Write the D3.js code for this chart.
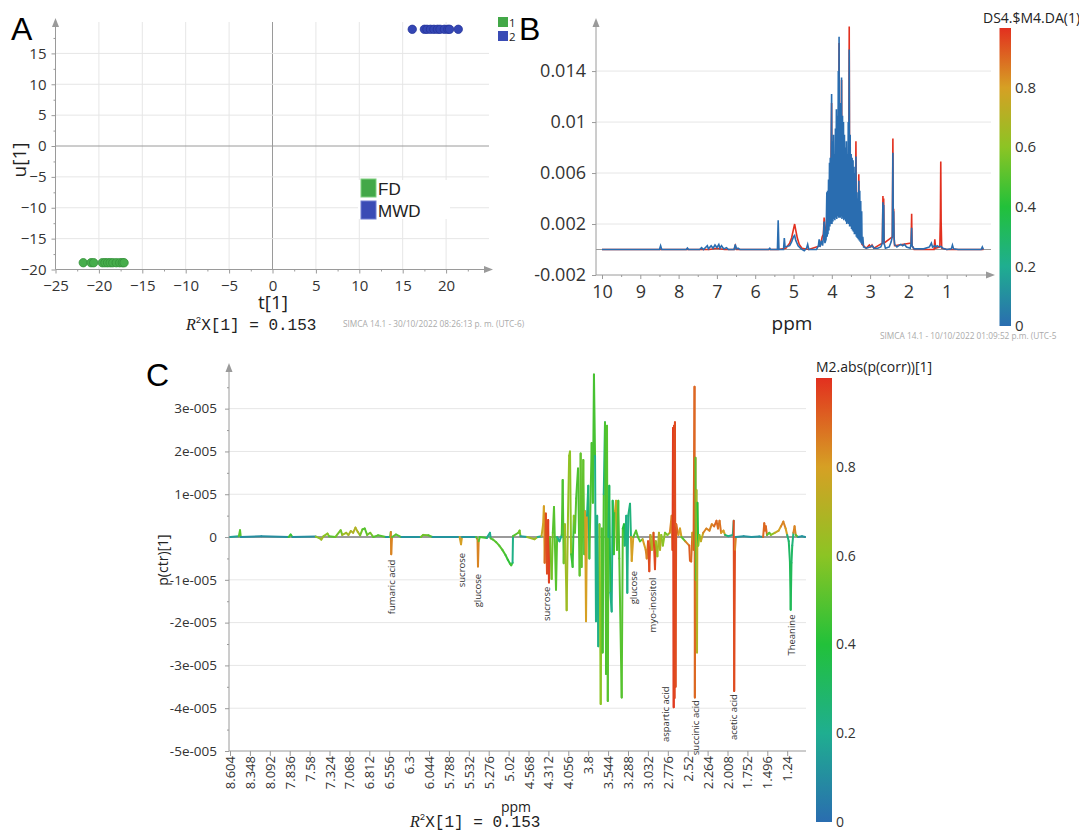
<!DOCTYPE html>
<html>
<head>
<meta charset="utf-8">
<script src="https://d3js.org/d3.v7.min.js"></script>
<style>
  body { margin: 0; background: #fff; }
  svg { display: block; font-family: "Open Sans", "Noto Sans", sans-serif; }
</style>
</head>
<body>
<svg id="fig" width="1079" height="832"></svg>
<script>
// ---------- Panel A: scores t[1] / u[1] ----------
const fdT = [-21.8, -20.9, -20.6, -19.6, -19.3, -19.0, -18.7, -18.4, -18.0, -17.6, -17.3, -17.1];
const fdU = [-18.9, -18.9, -18.9, -18.9, -18.9, -18.9, -18.9, -18.9, -18.9, -18.9, -18.9, -18.9];
const mwdT = [16.1, 17.5, 17.8, 18.2, 18.6, 19.0, 19.3, 19.8, 20.2, 20.4, 21.4];
const mwdU = [18.9, 18.9, 18.9, 18.9, 18.9, 18.9, 18.9, 18.9, 18.9, 18.9, 18.9];
const tTicks = [-25, -20, -15, -10, -5, 0, 5, 10, 15, 20];
const uTicks = [-20, -15, -10, -5, 0, 5, 10, 15];
const classNames = ['FD', 'MWD'];
const classIds = ['1', '2'];

// ---------- Panel B: spectra coloured by DS4.$M4.DA(1) (intensity x 1e-3) ----------
const ppmTicksB = [10, 9, 8, 7, 6, 5, 4, 3, 2, 1];
const intensityTicksB = [-2, 2, 6, 10, 14];
const spectraDA0 = [
  [10.0, 0], [8.50, 0], [8.47, 0.3], [8.44, 0], [7.80, 0], [7.77, 0.12], [7.74, 0],
  [7.45, 0], [7.40, 0.15], [7.35, 0], [7.25, 0.3], [7.22, 0.05], [7.15, 0.3], [7.10, 0.1],
  [7.05, 0.35], [7.00, 0.15], [6.95, 0.4], [6.92, 0.1], [6.88, 0.3], [6.82, 0.05], [6.75, 0.15],
  [6.70, 0], [6.55, 0], [6.52, 0.4], [6.49, 0.05], [6.45, 0.1], [6.40, 0],
  [5.65, 0], [5.62, 0.1], [5.60, 0], [5.42, 0], [5.40, 2.3], [5.38, 0], [5.26, 0], [5.24, 0.9],
  [5.22, 0.2], [5.10, 0.3], [5.05, 0.6], [5.00, 1.0], [4.97, 1.1], [4.94, 0.7], [4.88, 0.3],
  [4.80, 0.05], [4.72, -0.1], [4.66, 0.1], [4.63, 0.4], [4.60, 0], [4.40, 0], [4.35, 0.3],
  [4.33, 0.8], [4.31, 0.2], [4.27, 0.7], [4.24, 0.3], [4.22, 0.9], [4.20, 2.2], [4.18, 0.5],
  [4.15, 0.8], [4.13, 4.5], [4.12, 1.0], [4.11, 4.6], [4.10, 1.2], [4.085, 5.5], [4.075, 1.5],
  [4.06, 6.8], [4.05, 1.8], [4.04, 7.2], [4.03, 2.0], [4.005, 12.2], [3.995, 2.0], [3.98, 8.5],
  [3.97, 2.2], [3.955, 9.0], [3.945, 2.4], [3.93, 7.5], [3.92, 2.3], [3.905, 9.5], [3.895, 2.5],
  [3.88, 11.0], [3.87, 2.4], [3.855, 10.5], [3.845, 2.6], [3.83, 14.0], [3.82, 2.5], [3.81, 16.7],
  [3.80, 2.7], [3.79, 11.5], [3.78, 2.5], [3.77, 11.0], [3.76, 2.6], [3.745, 13.5], [3.735, 2.4],
  [3.72, 10.5], [3.71, 2.5], [3.695, 10.0], [3.685, 2.3], [3.67, 9.0], [3.66, 2.4], [3.645, 8.0],
  [3.635, 2.2], [3.62, 8.5], [3.61, 2.0], [3.595, 7.5], [3.585, 2.1], [3.57, 10.0], [3.56, 2.0],
  [3.545, 15.7], [3.535, 1.8], [3.52, 9.0], [3.51, 1.8], [3.495, 7.5], [3.485, 1.6], [3.47, 7.2],
  [3.46, 1.5], [3.445, 7.0], [3.435, 1.4], [3.42, 6.5], [3.41, 1.2], [3.395, 6.0], [3.385, 1.2],
  [3.37, 7.3], [3.36, 1.0], [3.345, 4.5], [3.335, 0.9], [3.32, 4.0], [3.31, 0.8], [3.295, 5.4],
  [3.285, 0.7], [3.27, 4.6], [3.26, 0.6], [3.245, 3.8], [3.235, 0.5], [3.22, 3.0], [3.21, 0.4],
  [3.19, 1.0], [3.17, 0.2], [3.10, 0.1], [3.00, 0.2], [2.95, 0.3], [2.90, 0.1], [2.80, 0.1],
  [2.72, 0.2], [2.68, 0.5], [2.665, 3.7], [2.655, 1.0], [2.645, 3.5], [2.635, 0.5], [2.60, 0.1],
  [2.50, 0.2], [2.45, 0.6], [2.42, 1.0], [2.405, 7.6], [2.395, 1.5], [2.385, 3.0], [2.375, 1.0],
  [2.36, 0.4], [2.30, 0.2], [2.25, 0.3], [2.20, 0.4], [2.15, 0.3], [2.10, 0.4], [2.05, 0.2],
  [1.95, 0.1], [1.93, 0.5], [1.915, 1.7], [1.905, 0.3], [1.85, 0.05], [1.60, 0.05], [1.45, 0.2],
  [1.40, 0.5], [1.37, 0.2], [1.31, 0.3], [1.28, 0.2], [1.25, 0.3], [1.20, 0.2], [1.15, 0.25],
  [1.10, 0.1], [1.00, 0], [0.88, 0.05], [0.85, 0.35], [0.82, 0.05], [0.70, 0], [0.10, 0],
  [0.07, 0.2], [0.04, 0]
];
const spectraDA1 = [
  [10.0, 0], [7.20, 0], [7.00, 0.1], [6.80, 0], [6.55, 0], [6.52, 0.3], [6.49, 0], [5.40, 0],
  [5.20, 0.1], [5.10, 0.5], [5.05, 0.9], [5.00, 1.6], [4.97, 2.0], [4.94, 1.5], [4.90, 0.9],
  [4.85, 0.4], [4.78, 0.1], [4.60, 0], [4.30, 0.3], [4.25, 1.0], [4.22, 1.2], [4.20, 2.5],
  [4.18, 0.6], [4.13, 2.5], [4.03, 3.4], [4.005, 11.5], [3.995, 3.4], [3.83, 4.0], [3.81, 16.2],
  [3.80, 4.0], [3.76, 4.0], [3.745, 13.3], [3.735, 3.8], [3.56, 3.2], [3.545, 17.5], [3.535, 3.0],
  [3.385, 2.4], [3.37, 8.5], [3.36, 2.2], [3.31, 2.0], [3.295, 5.9], [3.285, 1.8], [3.245, 1.5],
  [3.21, 0.4], [3.10, 0.1], [3.02, 0.35], [2.98, 0.2], [2.95, 0.35], [2.90, 0.1], [2.68, 0.5],
  [2.665, 4.2], [2.655, 1.0], [2.645, 4.0], [2.635, 0.5], [2.42, 1.0], [2.405, 8.7], [2.395, 1.5],
  [2.385, 3.2], [2.375, 1.0], [2.36, 0.3], [1.93, 0.5], [1.915, 2.8], [1.905, 0.3], [1.85, 0],
  [1.33, 0], [1.31, 0.8], [1.29, 0.1], [1.18, 0.2], [1.165, 2.5], [1.155, 6.9], [1.145, 2.2],
  [1.13, 0.1], [1.00, 0], [0.04, 0]
];
const colorbarTicksB = [0, 0.2, 0.4, 0.6, 0.8];

// ---------- Panel C: loadings p(ctr)[1] x 1e-5, coloured by |p(corr)| ----------
const cTickLabels = ['8.604', '8.348', '8.092', '7.836', '7.58', '7.324', '7.068', '6.812', '6.556',
  '6.3', '6.044', '5.788', '5.532', '5.276', '5.02', '4.568', '4.312', '4.056', '3.8', '3.544',
  '3.288', '3.032', '2.776', '2.52', '2.264', '2.008', '1.752', '1.496', '1.24'];
const loadingTicksC = [-5, -4, -3, -2, -1, 0, 1, 2, 3];
// [ppm, p(ctr), abs(p(corr))]
const loadingsAromatic = [
  [8.60, 0, 0.12], [8.49, 0.02, 0.15], [8.475, 0.16, 0.5], [8.465, 0, 0.12], [8.20, 0.02, 0.1],
  [7.85, 0, 0.12], [7.823, 0.06, 0.45], [7.80, 0, 0.12], [7.50, 0.01, 0.1], [7.45, -0.03, 0.6],
  [7.43, -0.06, 0.65], [7.40, 0.02, 0.5], [7.35, 0.08, 0.6], [7.33, 0.02, 0.5], [7.25, 0, 0.12],
  [7.18, 0.16, 0.55], [7.16, 0.05, 0.6], [7.11, 0.10, 0.65], [7.08, 0.05, 0.68], [7.05, 0.14, 0.68],
  [7.02, 0.10, 0.7], [6.99, 0.22, 0.7], [6.96, 0.12, 0.68], [6.93, 0.04, 0.65], [6.90, 0.18, 0.55],
  [6.87, 0.20, 0.5], [6.84, 0.05, 0.6], [6.80, 0.10, 0.55], [6.76, 0, 0.12], [6.70, 0.04, 0.5],
  [6.60, 0, 0.12], [6.545, 0, 0.12], [6.535, 0.12, 0.5], [6.53, -0.40, 0.85], [6.52, 0, 0.2],
  [6.47, 0.06, 0.5], [6.40, 0, 0.12], [6.15, 0, 0.12], [6.12, 0.05, 0.55], [6.05, 0.04, 0.5],
  [6.00, 0, 0.12], [5.65, 0, 0.12], [5.632, -0.17, 0.8], [5.62, 0, 0.2], [5.44, 0, 0.12],
  [5.42, -0.05, 0.5], [5.414, -0.69, 0.85], [5.405, -0.10, 0.5], [5.39, 0, 0.2]
];
const loadingsSugar = [
  [5.30, -0.02, 0.45], [5.26, 0.10, 0.2], [5.25, -0.03, 0.45], [5.22, -0.06, 0.5],
  [5.18, -0.12, 0.5], [5.14, -0.20, 0.5], [5.10, -0.30, 0.5], [5.06, -0.42, 0.48],
  [5.03, -0.53, 0.45], [4.99, -0.62, 0.42], [4.96, -0.66, 0.45], [4.93, -0.60, 0.22],
  [4.92, 0.02, 0.15], [4.80, 0.10, 0.5], [4.77, 0.15, 0.55], [4.75, 0.02, 0.15], [4.60, 0, 0.12],
  [4.49, -0.05, 0.65], [4.45, 0, 0.12], [4.40, 0.02, 0.2],
  [4.38, 0.3, 0.75], [4.37, 0.72, 0.8], [4.36, -0.6, 0.9], [4.345, 0.55, 0.75], [4.33, -0.85, 0.95],
  [4.315, 0.4, 0.7], [4.305, -1.06, 0.97], [4.29, 0, 0.5], [4.27, -0.98, 0.55], [4.255, 0.1, 0.4],
  [4.24, 0.7, 0.5], [4.23, 0, 0.3], [4.214, -1.23, 0.5], [4.20, 0, 0.2], [4.17, -0.1, 0.2],
  [4.14, 0.05, 0.3], [4.128, 1.33, 0.48], [4.115, -0.61, 0.55], [4.10, 0.3, 0.5],
  [4.077, -1.71, 0.65], [4.06, 0.5, 0.6], [4.045, 1.9, 0.62], [4.034, 2.0, 0.6], [4.02, -0.4, 0.5],
  [4.00, -0.7, 0.45], [3.985, 0.5, 0.6], [3.97, 0.1, 0.25], [3.955, 0.9, 0.5], [3.931, 1.6, 0.48],
  [3.91, -0.9, 0.6], [3.897, 1.95, 0.52], [3.885, -0.7, 0.5], [3.863, 1.8, 0.52], [3.85, -0.4, 0.45],
  [3.84, 0.6, 0.45], [3.828, -1.97, 0.8], [3.815, 0.5, 0.25], [3.799, 1.2, 0.25], [3.785, -0.5, 0.4],
  [3.755, 2.2, 0.48], [3.74, 0.8, 0.4], [3.726, 3.8, 0.47], [3.712, 1.9, 0.4], [3.70, -1.97, 0.22],
  [3.685, 0.5, 0.25], [3.670, -2.55, 0.22], [3.655, 0.3, 0.45], [3.639, -3.9, 0.6], [3.625, 0.2, 0.4],
  [3.614, -2.7, 0.48], [3.60, 1.0, 0.28], [3.584, 2.68, 0.24], [3.57, -3.2, 0.48], [3.558, 2.6, 0.28],
  [3.548, -3.83, 0.5], [3.54, 0, 0.3], [3.529, 1.2, 0.25], [3.515, -1.3, 0.35], [3.498, -1.74, 0.22],
  [3.485, 0.85, 0.35], [3.47, -0.4, 0.35], [3.455, 0.6, 0.45], [3.442, 0.85, 0.75], [3.43, -0.3, 0.45],
  [3.413, 0.85, 0.48], [3.40, -0.5, 0.4], [3.369, -3.75, 0.5], [3.355, 0.2, 0.35], [3.340, 0.3, 0.4],
  [3.33, -0.2, 0.25], [3.31, 0.5, 0.25], [3.297, -1.3, 0.22], [3.285, 0.5, 0.25], [3.262, 0.78, 0.25],
  [3.25, 0, 0.25], [3.240, -0.56, 0.8], [3.22, 0, 0.2], [3.185, 0.15, 0.5], [3.16, 0, 0.2],
  [3.134, -0.1, 0.5]
];
const loadingsAliphatic = [
  [3.10, -0.05, 0.6], [3.06, -0.3, 0.8], [3.047, -0.5, 0.85], [3.03, -0.1, 0.7], [3.014, -0.8, 0.95],
  [3.00, 0.05, 0.6], [2.98, -0.3, 0.7], [2.96, 0.1, 0.5], [2.941, -0.75, 0.95], [2.93, -0.1, 0.6],
  [2.91, -0.45, 0.65], [2.89, 0.1, 0.55], [2.876, -0.3, 0.7], [2.86, 0.05, 0.5], [2.84, -0.2, 0.6],
  [2.812, 0.1, 0.55], [2.78, 0.05, 0.5], [2.75, 0.1, 0.6], [2.726, 0.5, 0.85], [2.715, -0.3, 0.95],
  [2.709, 2.55, 0.97], [2.700, -3.98, 0.98], [2.696, 2.6, 0.97], [2.69, -3.76, 0.96],
  [2.684, 2.68, 0.96], [2.676, -3.5, 0.95], [2.668, 0.3, 0.9], [2.64, 0.05, 0.5], [2.619, 0.2, 0.8],
  [2.60, 0, 0.3], [2.55, -0.1, 0.5], [2.50, -0.2, 0.85], [2.491, -0.55, 0.92], [2.475, -0.57, 0.9],
  [2.46, 0.1, 0.5], [2.445, -0.3, 0.7], [2.432, 3.51, 0.92], [2.428, -3.75, 0.9], [2.42, 1.85, 0.5],
  [2.414, -1.0, 0.55], [2.408, 1.1, 0.45], [2.40, -2.7, 0.7], [2.395, 0.8, 0.4], [2.385, -0.2, 0.6],
  [2.37, 0.05, 0.3], [2.35, -0.1, 0.6], [2.32, 0.1, 0.75], [2.28, 0.2, 0.85], [2.24, 0.15, 0.8],
  [2.21, 0.3, 0.85], [2.18, 0.25, 0.85], [2.15, 0.38, 0.9], [2.13, 0.2, 0.85], [2.11, 0.38, 0.88],
  [2.09, 0.1, 0.7], [2.06, 0.15, 0.8], [2.04, 0.05, 0.3], [2.00, 0.02, 0.2], [1.94, 0.05, 0.2],
  [1.928, 0.38, 0.22], [1.922, -3.6, 0.95], [1.912, -0.3, 0.85], [1.90, 0, 0.2], [1.80, 0.02, 0.12],
  [1.70, 0, 0.12], [1.60, 0.01, 0.12], [1.55, 0, 0.12], [1.535, 0.32, 0.9], [1.525, 0.15, 0.85],
  [1.515, 0.25, 0.9], [1.50, 0.05, 0.6], [1.47, 0.1, 0.5], [1.45, 0.05, 0.55], [1.40, 0.1, 0.6],
  [1.35, 0.15, 0.75], [1.32, 0.25, 0.8], [1.29, 0.36, 0.85], [1.26, 0.2, 0.8], [1.24, 0.05, 0.5],
  [1.22, -0.1, 0.25], [1.205, -0.57, 0.3], [1.195, -1.7, 0.33], [1.185, -0.6, 0.3],
  [1.175, -0.2, 0.25], [1.16, 0.1, 0.6], [1.145, 0.25, 0.85], [1.13, 0.05, 0.5], [1.10, 0, 0.12],
  [1.05, 0.02, 0.12], [1.01, 0, 0.12]
];
// metabolite annotation: name, ppm, loading where the label starts
const metaboliteLabels = [
  ['fumaric acid', 6.52, -0.53], ['sucrose', 5.62, -0.37], ['glucose', 5.414, -0.86],
  ['sucrose', 4.33, -1.16], ['glucose', 3.21, -0.79], ['myo-inositol', 2.966, -0.95],
  ['aspartic acid', 2.80, -3.49], ['succinic acid', 2.414, -3.81], ['acetic acid', 1.924, -3.67],
  ['Theanine', 1.18, -1.81]
];
const colorbarTicksC = [0, 0.2, 0.4, 0.6, 0.8];

// SIMCA colour ramp
const colorStops = [0, 0.2, 0.4, 0.6, 0.8, 1.0];
const colorRamp = ['#2a6db0', '#1fae90', '#22c13a', '#8cc424', '#d6a024', '#e2301f'];
const corrColor = d3.scaleLinear().domain(colorStops).range(colorRamp).clamp(true);

const svg = d3.select('#fig');
const axisGray = '#9a9a9a';
const gridGray = '#e6e6e6';
const textDark = '#333';

function styleAxis(sel, size) {
  sel.attr('font-family', null).attr('font-size', null);
  sel.select('.domain').remove();
  sel.selectAll('.tick line').attr('stroke', axisGray);
  sel.selectAll('.tick text').attr('fill', textDark).style('font-size', size + 'px');
}

function arrowRight(g, x, y) {
  g.append('path').attr('d', `M${x},${y}L${x - 9},${y - 3.5}L${x - 9},${y + 3.5}Z`).attr('fill', axisGray);
}
function arrowUp(g, x, y) {
  g.append('path').attr('d', `M${x},${y}L${x - 3.5},${y + 9}L${x + 3.5},${y + 9}Z`).attr('fill', axisGray);
}

function colorbar(id, x, y0, y1, w, ticks, title, titleX, titleY, fontSize) {
  const grad = svg.append('defs').append('linearGradient').attr('id', id)
    .attr('x1', 0).attr('y1', 1).attr('x2', 0).attr('y2', 0);
  grad.selectAll('stop').data(colorStops).join('stop')
    .attr('offset', d => d).attr('stop-color', d => corrColor(d));
  const s = d3.scaleLinear().domain([0, 1]).range([y1, y0]);
  svg.append('rect').attr('x', x).attr('y', y0).attr('width', w).attr('height', y1 - y0)
    .attr('fill', `url(#${id})`);
  svg.append('g').selectAll('text').data(ticks).join('text')
    .attr('x', x + w + 4).attr('y', d => s(d)).attr('dy', '0.35em')
    .attr('fill', textDark).style('font-size', fontSize + 'px').text(d => d);
  svg.append('text').attr('x', titleX).attr('y', titleY).attr('fill', '#222')
    .style('font-size', '14px').text(title);
}

// ================= Panel A =================
function drawPanelA() {
  const g = svg.append('g');
  const xA = d3.scaleLinear().domain([-25, 25]).range([55.5, 489.5]);
  const yA = d3.scaleLinear().domain([-20, 19.6]).range([269.5, 25]);
  const yTop = 22, xRight = 489;

  g.selectAll('.vg').data(tTicks.filter(d => d > -25)).join('line')
    .attr('x1', d => xA(d)).attr('x2', d => xA(d)).attr('y1', yA(-20)).attr('y2', yTop)
    .attr('stroke', d => d === 0 ? axisGray : gridGray);
  g.selectAll('.hg').data(uTicks.filter(d => d > -20)).join('line')
    .attr('x1', xA(-25)).attr('x2', xRight).attr('y1', d => yA(d)).attr('y2', d => yA(d))
    .attr('stroke', d => d === 0 ? axisGray : gridGray);

  // legend box (white background covers grid)
  g.append('rect').attr('x', 358).attr('y', 180).attr('width', 92).attr('height', 39).attr('fill', '#fff');
  const legCols = ['#43a848', '#3a4bb5'];
  classNames.forEach((name, i) => {
    g.append('rect').attr('x', 361).attr('y', 179 + i * 22).attr('width', 15).attr('height', 18)
      .attr('fill', legCols[i]).attr('stroke', i ? '#6f7dd0' : '#7fcf7f').attr('stroke-width', 1);
    g.append('text').attr('x', 378).attr('y', 195 + i * 22).attr('fill', '#222')
      .style('font-family', '"Liberation Sans", Arial, sans-serif').style('font-size', '17px').text(name);
  });

  // axes
  g.append('line').attr('x1', xA(-25)).attr('x2', xRight).attr('y1', yA(-20)).attr('y2', yA(-20)).attr('stroke', axisGray);
  g.append('line').attr('x1', xA(-25)).attr('x2', xA(-25)).attr('y1', yA(-20)).attr('y2', yTop).attr('stroke', axisGray);
  arrowRight(g, xRight + 4, yA(-20));
  arrowUp(g, xA(-25), yTop - 4);

  g.append('g').attr('transform', `translate(0,${yA(-20)})`)
    .call(d3.axisBottom(xA).tickValues(tTicks).tickSize(4).tickPadding(7))
    .call(s => styleAxis(s, 15));
  g.append('g').attr('transform', `translate(0,${yA(-20)})`)
    .call(d3.axisBottom(xA).tickValues(d3.range(-22.5, 25, 5)).tickSize(2).tickFormat(''))
    .call(s => styleAxis(s, 15));
  g.append('g').attr('transform', `translate(${xA(-25)},0)`)
    .call(d3.axisLeft(yA).tickValues(uTicks).tickSize(4).tickPadding(5))
    .call(s => styleAxis(s, 15));
  g.append('g').attr('transform', `translate(${xA(-25)},0)`)
    .call(d3.axisLeft(yA).tickValues(d3.range(-17.5, 19, 5)).tickSize(2).tickFormat(''))
    .call(s => styleAxis(s, 15));

  // points
  g.selectAll('.fd').data(d3.zip(fdT, fdU)).join('circle')
    .attr('cx', d => xA(d[0])).attr('cy', d => yA(d[1])).attr('r', 4.2)
    .attr('fill', '#46ad4b').attr('stroke', '#33913a').attr('stroke-width', 0.8);
  g.selectAll('.mwd').data(d3.zip(mwdT, mwdU)).join('circle')
    .attr('cx', d => xA(d[0])).attr('cy', d => yA(d[1])).attr('r', 4.2)
    .attr('fill', '#3446b4').attr('stroke', '#24349a').attr('stroke-width', 0.8);

  // class id legend (1 / 2)
  classIds.forEach((id, i) => {
    g.append('rect').attr('x', 498).attr('y', 17 + i * 14).attr('width', 10).attr('height', 10)
      .attr('fill', legCols[i]);
    g.append('text').attr('x', 509).attr('y', 27 + i * 14).attr('fill', '#222')
      .style('font-size', '11.5px').text(id);
  });

  g.append('text').attr('x', 273).attr('y', 309).attr('text-anchor', 'middle').attr('fill', '#222')
    .style('font-size', '19px').text('t[1]');
  g.append('text').attr('transform', 'translate(26,160) rotate(-90)').attr('text-anchor', 'middle')
    .attr('fill', '#222').style('font-size', '19px').text('u[1]');
  r2Label(g, 186, 330);
  g.append('text').attr('x', 343).attr('y', 327).attr('fill', '#aaa').style('font-size', '8.3px')
    .text('SIMCA 14.1 - 30/10/2022 08:26:13 p. m. (UTC-6)');
}

function r2Label(g, x, y) {
  const t = g.append('text').attr('x', x).attr('y', y).attr('fill', '#222')
    .style('font-family', '"Liberation Mono", "DejaVu Sans Mono", monospace').style('font-size', '16px');
  t.append('tspan').style('font-style', 'italic').style('font-family', '"Liberation Serif", serif').text('R');
  t.append('tspan').attr('dy', -7).style('font-size', '9px').text('2');
  t.append('tspan').attr('dy', 7).text('X[1] = 0.153');
}

// ================= Panel B =================
function drawPanelB() {
  const g = svg.append('g');
  const xB = d3.scaleLinear().domain([10, 0]).range([602, 985]);
  const yB = d3.scaleLinear().domain([-2, 17.85]).range([275, 22]);
  const xLeft = 596, xRight = 991;

  g.selectAll('.hg').data(intensityTicksB.filter(d => d > -2)).join('line')
    .attr('x1', xLeft).attr('x2', xRight).attr('y1', d => yB(d)).attr('y2', d => yB(d))
    .attr('stroke', gridGray);
  g.append('line').attr('x1', xLeft).attr('x2', xRight).attr('y1', yB(0)).attr('y2', yB(0))
    .attr('stroke', axisGray).attr('stroke-width', 1.2);

  g.append('line').attr('x1', xLeft).attr('x2', xRight).attr('y1', yB(-2)).attr('y2', yB(-2)).attr('stroke', axisGray);
  g.append('line').attr('x1', xLeft).attr('x2', xLeft).attr('y1', yB(-2)).attr('y2', 22).attr('stroke', axisGray);
  arrowRight(g, xRight + 4, yB(-2));
  arrowUp(g, xLeft, 18);

  g.append('g').attr('transform', `translate(0,${yB(-2)})`)
    .call(d3.axisBottom(xB).tickValues(ppmTicksB).tickSize(4).tickPadding(6))
    .call(s => styleAxis(s, 18));
  g.append('g').attr('transform', `translate(0,${yB(-2)})`)
    .call(d3.axisBottom(xB).tickValues(d3.range(9.5, 0, -1)).tickSize(2).tickFormat(''))
    .call(s => styleAxis(s, 18));
  g.append('g').attr('transform', `translate(${xLeft},0)`)
    .call(d3.axisLeft(yB).tickValues(intensityTicksB).tickSize(4).tickPadding(6)
      .tickFormat(d => String(d / 1000)))
    .call(s => styleAxis(s, 18));

  const line = d3.line().x(d => xB(d[0])).y(d => yB(d[1]));
  g.append('path').datum(spectraDA1).attr('d', line).attr('fill', 'none')
    .attr('stroke', corrColor(1)).attr('stroke-width', 1.6);
  g.append('path').datum(spectraDA0).attr('d', line).attr('fill', 'none')
    .attr('stroke', corrColor(0)).attr('stroke-width', 1.6);

  g.append('text').attr('x', 792).attr('y', 330).attr('text-anchor', 'middle').attr('fill', '#222')
    .style('font-size', '19px').text('ppm');
  g.append('text').attr('x', 880).attr('y', 339).attr('fill', '#aaa').style('font-size', '8.3px')
    .text('SIMCA 14.1 - 10/10/2022 01:09:52 p.m. (UTC-5');

  colorbar('cbB', 999.5, 28, 326, 11.5, colorbarTicksB, 'DS4.$M4.DA(1)', 983, 23, 15);
}

// ================= Panel C =================
function drawPanelC() {
  const g = svg.append('g');
  const xC = d3.scaleLinear().domain([8.604, 5.02, 4.568, 1.24]).range([230, 508.6, 528.5, 787.2]);
  const yC = d3.scaleLinear().domain([-5, 3.95]).range([751, 368]);
  const xLeft = 229, xRight = 806;

  g.selectAll('.hg').data(loadingTicksC.filter(d => d > -5 && d !== 0)).join('line')
    .attr('x1', xLeft).attr('x2', xRight).attr('y1', d => yC(d)).attr('y2', d => yC(d))
    .attr('stroke', gridGray);
  g.append('line').attr('x1', xLeft).attr('x2', xRight).attr('y1', yC(0)).attr('y2', yC(0))
    .attr('stroke', axisGray).attr('stroke-width', 2);

  g.append('line').attr('x1', xLeft).attr('x2', xRight).attr('y1', yC(-5)).attr('y2', yC(-5)).attr('stroke', axisGray);
  g.append('line').attr('x1', xLeft).attr('x2', xLeft).attr('y1', yC(-5)).attr('y2', 368).attr('stroke', axisGray);
  arrowUp(g, xLeft, 363);

  g.append('g').attr('transform', `translate(${xLeft},0)`)
    .call(d3.axisLeft(yC).tickValues(loadingTicksC).tickSize(4).tickPadding(8)
      .tickFormat(d => d === 0 ? '0' : d + 'e-005'))
    .call(s => styleAxis(s, 13.5));
  g.append('g').attr('transform', `translate(${xLeft},0)`)
    .call(d3.axisLeft(yC).tickValues(d3.range(-4.5, 3.9, 1)).tickSize(2).tickFormat(''))
    .call(s => styleAxis(s, 13));

  const ax = g.append('g').attr('transform', `translate(0,${yC(-5)})`)
    .call(d3.axisBottom(xC).tickValues(cTickLabels.map(Number)).tickSize(5)
      .tickFormat((d, i) => cTickLabels[i]))
    .call(s => styleAxis(s, 13));
  ax.selectAll('.tick text').attr('transform', 'rotate(-90)').attr('text-anchor', 'end')
    .attr('x', -5).attr('y', 0).attr('dy', '0.35em');

  const loadings = loadingsAromatic.concat(loadingsSugar, loadingsAliphatic);
  g.append('g').selectAll('line').data(d3.pairs(loadings)).join('line')
    .attr('x1', d => xC(d[0][0])).attr('y1', d => yC(d[0][1]))
    .attr('x2', d => xC(d[1][0])).attr('y2', d => yC(d[1][1]))
    .attr('stroke', d => corrColor(Math.abs(d[0][1]) > Math.abs(d[1][1]) ? d[0][2] : d[1][2]))
    .attr('stroke-width', 2).attr('stroke-linecap', 'round');

  g.selectAll('.lab').data(metaboliteLabels).join('text')
    .attr('transform', d => `translate(${xC(d[1])},${yC(d[2])}) rotate(-90)`)
    .attr('text-anchor', 'end').attr('dy', '0.35em').attr('fill', '#333')
    .style('font-size', '9.5px').text(d => d[0]);

  g.append('text').attr('transform', 'translate(163,560) rotate(-90)').attr('text-anchor', 'middle')
    .attr('dy', '0.35em').attr('fill', '#222').style('font-size', '14px').text('p(ctr)[1]');
  g.append('text').attr('x', 516).attr('y', 812).attr('text-anchor', 'middle').attr('fill', '#222')
    .style('font-size', '14px').text('ppm');
  r2Label(g, 410, 827);

  colorbar('cbC', 816, 378, 822, 16, colorbarTicksC, 'M2.abs(p(corr))[1]', 816, 372, 14);
}

drawPanelA();
drawPanelB();
drawPanelC();

// panel letters
[['A', 11, 40], ['B', 519, 40], ['C', 146, 386]].forEach(([t, x, y]) => {
  svg.append('text').attr('x', x).attr('y', y).attr('fill', '#000')
    .style('font-family', '"Liberation Sans", Arial, sans-serif').style('font-size', '32px').text(t);
});
</script>
</body>
</html>
